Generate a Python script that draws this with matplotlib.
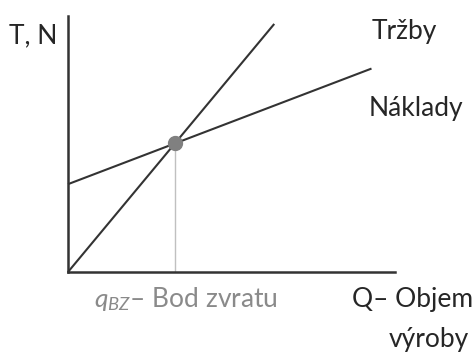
import numpy as np
import matplotlib.pyplot as plt

plt.rcParams['font.family'] = ['Lato', 'DejaVu Sans']
plt.rcParams['mathtext.fontset'] = 'custom'
plt.rcParams['mathtext.it'] = 'Lato:italic'
plt.rcParams['mathtext.rm'] = 'Lato'

# hodnoty modelu bodu zvratu
fixni_naklady = 82.0
variabilni_naklady = 0.38
cena = 1.2
q_trzby = [0, 193]
q_naklady = [0, 284]
x_max, y_max = 306, 239

q_bz = fixni_naklady / (cena - variabilni_naklady)
t_bz = cena * q_bz

fig = plt.figure(figsize=(4.72, 3.52), dpi=100)
ax = fig.add_axes([68 / 472, 80 / 352, 327 / 472, 256 / 352])
ax.set_xlim(0, x_max)
ax.set_ylim(0, y_max)

q_t = np.array(q_trzby, dtype=float)
q_n = np.array(q_naklady, dtype=float)
ax.plot(q_t, cena * q_t, color='#333333', lw=1.5, solid_capstyle='butt', clip_on=False)
ax.plot(q_n, fixni_naklady + variabilni_naklady * q_n, color='#333333', lw=1.5,
        solid_capstyle='butt', clip_on=False)
ax.plot([q_bz, q_bz], [0, t_bz], color='#c0c0c0', lw=1.0)
ax.plot([q_bz], [t_bz], 'o', ms=10, color='#808080', zorder=5)

for s in ['top', 'right']:
    ax.spines[s].set_visible(False)
for s in ['left', 'bottom']:
    ax.spines[s].set_linewidth(1.8)
    ax.spines[s].set_color('#333333')
ax.set_xticks([])
ax.set_yticks([])
ax.patch.set_alpha(0)

fs = 19
barva = '#262626'
fig.text(9 / 472, 1 - 36 / 352, 'T, N', fontsize=fs, color=barva, va='center')
fig.text(372 / 472, 1 - 32 / 352, 'Tržby', fontsize=fs, color=barva, va='center')
fig.text(369 / 472, 1 - 109 / 352, 'Náklady', fontsize=fs, color=barva, va='center')
fig.text(94 / 472, 1 - 299 / 352, r'$q_{BZ}$– Bod zvratu', fontsize=fs, color='#8a8a8a',
         va='center')
fig.text(473 / 472, 1 - 299 / 352, 'Q– Objem', fontsize=fs, color=barva,
         va='center', ha='right')
fig.text(469 / 472, 1 - 339 / 352, 'výroby', fontsize=fs, color=barva,
         va='center', ha='right')

fig.savefig('out.png', dpi=100, facecolor='white')
